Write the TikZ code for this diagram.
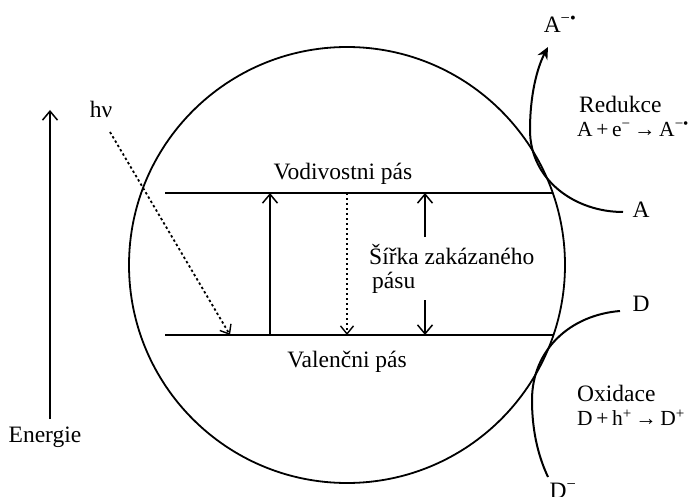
\documentclass[tikz,border=0pt]{standalone}
\usepackage{fontspec}
\setmainfont{Liberation Serif}
\usetikzlibrary{arrows.meta}
\begin{document}
\begin{tikzpicture}[x=1pt,y=-1pt,
  lbl/.style={inner sep=0pt, font=\fontsize{23.5}{27}\selectfont},
  lblL/.style={lbl, anchor=west},
  band/.style={line width=1.8pt},
  barb/.style={-{Straight Barb[length=9pt,width=15pt,line width=1.5pt]}},
  dotline/.style={line width=1.8pt, dash pattern=on 2.4pt off 2.6pt},
  react/.style={line width=2pt}]
\useasboundingbox (0,0) rectangle (693,497);
% particle
\node[draw, circle, minimum size=436pt, inner sep=0pt, line width=1.8pt] (np) at (347,265) {};
% energy axis
\coordinate (eB) at (50,419);
\coordinate (eT) at (50,110);
\draw[band, barb] (eB) -- (eT);
\node[lbl] (energie) at (45,437) {Energie};
% bands
\coordinate (cbL) at (165,193); \coordinate (cbR) at (553,193);
\coordinate (vbL) at (165,335); \coordinate (vbR) at (553,335);
\draw[band] (cbL) -- (cbR);
\draw[band] (vbL) -- (vbR);
\node[lbl] (vod) at (343,174) {Vodivostni pás};
\node[lbl] (val) at (347,362) {Valenčni pás};
% excitation arrow
\coordinate (exB) at (270,335); \coordinate (exT) at (270,193);
\draw[band, barb] (exB) -- (exT);
% recombination (dotted)
\coordinate (reT) at (347,193); \coordinate (reB) at (347,335);
\draw[dotline, -{Straight Barb[length=8pt,width=13pt,line width=1.4pt]}] (reT) -- (reB);
% band gap
\node[lblL] (gap1) at (369,255) {Šířka zakázaného};
\node[lblL] (gap2) at (372,283) {pásu};
\coordinate (gT) at (425,193); \coordinate (gU) at (425,237);
\coordinate (gL) at (425,300); \coordinate (gB) at (425,335);
\draw[band, barb] (gU) -- (gT);
\draw[band, barb] (gL) -- (gB);
% photon
\node[lbl] (hv) at (101,109) {hν};
\coordinate (phS) at (110,132); \coordinate (phE) at (230,335);
\draw[dotline, -{Straight Barb[length=8pt,width=13pt,line width=1.4pt]}] (phS) -- (phE);
% reduction
\coordinate (aEnd) at (623,212); \coordinate (aTip) at (548,47);
\draw[react, -{Stealth[length=12pt,width=11pt,inset=4pt]}] (aEnd) .. controls (575,212) and (530,180) .. (530,130) .. controls (530,95) and (537,68) .. (aTip);
\node[lbl] (aRad) at (560,24) {A\textsuperscript{−•}};
\node[lbl] (aLab) at (641,210) {A};
\node[lblL] (red) at (579,104) {Redukce};
\node[lblL, font=\fontsize{21.5}{25}\selectfont] (redEq) at (577,129) {A\,+\,e\textsuperscript{−}\,→\,A\textsuperscript{−•}};
% oxidation
\coordinate (dEnd) at (620,311); \coordinate (dBot) at (548,477);
\draw[react] (dEnd) .. controls (570,315) and (532,350) .. (532,400) .. controls (532,435) and (540,460) .. (dBot);
\node[lbl] (dLab) at (641,304) {D};
\node[lbl] (dMin) at (563,491) {D\textsuperscript{−}};
\node[lblL] (oxi) at (577,393) {Oxidace};
\node[lblL, font=\fontsize{21.5}{25}\selectfont] (oxiEq) at (577,418) {D\,+\,h\textsuperscript{+}\,→\,D\textsuperscript{+}};
\end{tikzpicture}
\end{document}
